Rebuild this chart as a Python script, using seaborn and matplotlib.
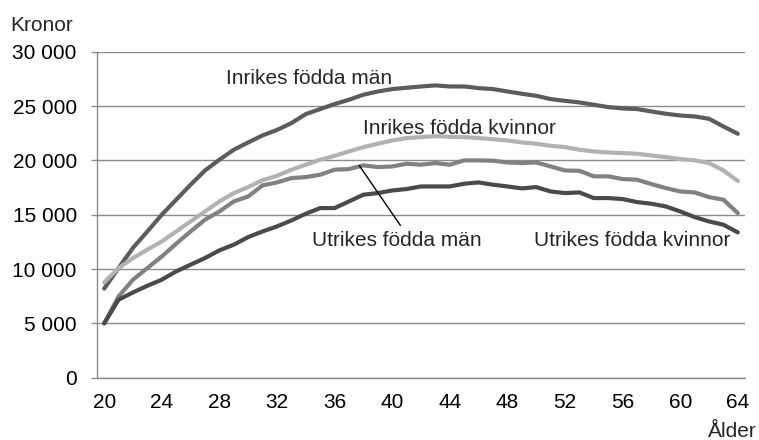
import numpy as np
import pandas as pd
import matplotlib
matplotlib.use('Agg')
import matplotlib.pyplot as plt
import seaborn as sns
from matplotlib.ticker import FuncFormatter, MultipleLocator

ages = list(range(20, 65))

inrikes_man = [8200, 10100, 11950, 13460, 15000, 16380, 17760, 19070, 20060, 20980,
               21650, 22300, 22800, 23430, 24260, 24720, 25180, 25580, 26040, 26340,
               26560, 26680, 26800, 26900, 26800, 26800, 26650, 26560, 26340, 26130,
               25940, 25640, 25480, 25330, 25120, 24900, 24780, 24720, 24500, 24290,
               24130, 24040, 23830, 23120, 22450]
inrikes_kvinnor = [8770, 10090, 11010, 11780, 12540, 13460, 14380, 15300, 16220, 16990,
                   17540, 18180, 18580, 19140, 19600, 20060, 20420, 20820, 21220, 21530,
                   21830, 22050, 22140, 22230, 22170, 22140, 22050, 21950, 21830, 21650,
                   21530, 21340, 21220, 20980, 20820, 20730, 20670, 20610, 20450, 20300,
                   20120, 20000, 19750, 19080, 18100]
utrikes_man = [5000, 7480, 9020, 10090, 11160, 12330, 13460, 14540, 15300, 16220,
               16680, 17700, 17970, 18370, 18460, 18680, 19140, 19200, 19540, 19380,
               19440, 19690, 19600, 19750, 19600, 20000, 20000, 19970, 19810, 19750,
               19810, 19440, 19070, 19040, 18530, 18530, 18280, 18220, 17820, 17450,
               17140, 17050, 16620, 16380, 15150]
utrikes_kvinnor = [5000, 7180, 7850, 8460, 9020, 9780, 10400, 11010, 11720, 12240,
                   12940, 13460, 13920, 14470, 15090, 15610, 15610, 16220, 16840, 16990,
                   17230, 17360, 17600, 17600, 17600, 17850, 17970, 17760, 17600, 17420,
                   17540, 17140, 16990, 17050, 16530, 16530, 16440, 16160, 16010, 15760,
                   15300, 14780, 14380, 14080, 13370]

groups = ['Inrikes födda män', 'Inrikes födda kvinnor', 'Utrikes födda män', 'Utrikes födda kvinnor']
colors = ['#5c5c5c', '#b2b2b2', '#818181', '#4a4a4a']

df = pd.DataFrame({
    'Ålder': ages * 4,
    'Kronor': inrikes_man + inrikes_kvinnor + utrikes_man + utrikes_kvinnor,
    'Grupp': np.repeat(groups, len(ages)),
})

sns.set_theme(style='white')
plt.rcParams['font.family'] = ['Liberation Sans', 'DejaVu Sans']

fig = plt.figure(figsize=(7.59, 4.4), dpi=100)
ax = fig.add_axes([97 / 759, 1 - 377.7 / 440, 648 / 759, 326 / 440])

sns.lineplot(data=df, x='Ålder', y='Kronor', hue='Grupp', hue_order=groups,
             palette=dict(zip(groups, colors)), linewidth=3, legend=False, ax=ax,
             zorder=3, solid_capstyle='round', solid_joinstyle='round')

ax.set_xlim(19.5, 64.5)
ax.set_ylim(0, 30000)
ax.set_xlabel('')
ax.set_ylabel('')

grid_c = '#8c8c8c'
ax.yaxis.set_major_locator(MultipleLocator(5000))
ax.yaxis.set_major_formatter(FuncFormatter(lambda v, p: f'{int(v):,}'.replace(',', ' ')))
ax.grid(axis='y', color=grid_c, linewidth=1.0)
ax.set_axisbelow(True)

# labels every fourth year, small ticks between every category
ax.set_xticks(list(range(20, 65, 4)))
ax.set_xticks(np.arange(19.5, 65, 1), minor=True)
ax.tick_params(axis='x', which='major', length=0, pad=11, labelsize=15, colors='black')
ax.tick_params(axis='x', which='minor', length=4.5, width=1.0, color=grid_c, direction='out')
ax.tick_params(axis='y', which='major', length=4.5, width=1.0, color=grid_c, pad=10,
               labelsize=15, labelcolor='black', left=True)

for s in ['top', 'right']:
    ax.spines[s].set_visible(False)
for s in ['left', 'bottom']:
    ax.spines[s].set_color(grid_c)
    ax.spines[s].set_linewidth(1.0)

fs = 15
ax.text(28.46, 27050, 'Inrikes födda män', fontsize=fs, va='baseline')
ax.text(37.95, 22450, 'Inrikes födda kvinnor', fontsize=fs, va='baseline')
ax.text(34.41, 12150, 'Utrikes födda män', fontsize=fs, va='baseline')
ax.text(49.85, 12150, 'Utrikes födda kvinnor', fontsize=fs, va='baseline')
ax.plot([37.72, 40.57], [19510, 14015], color='black', linewidth=1.0, zorder=4)

fig.text(10 / 759, 1 - 31 / 440, 'Kronor', fontsize=fs, va='baseline')
fig.text(757 / 759, 1 - 437 / 440, 'Ålder', fontsize=fs, ha='right', va='baseline')

fig.savefig('out.png', dpi=100)
